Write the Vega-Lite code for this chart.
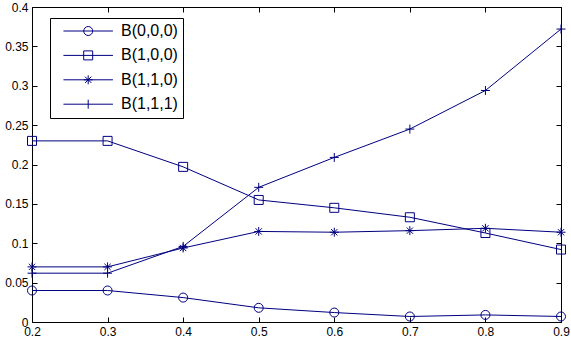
{
  "$schema": "https://vega.github.io/schema/vega-lite/v6.json",
  "width": 529,
  "height": 315,
  "autosize": {"type": "none"},
  "padding": {"left": 32, "top": 7, "right": 10, "bottom": 21},
  "background": "white",
  "config": {
    "view": {"stroke": null},
    "font": "Liberation Sans",
    "axis": {
      "grid": false,
      "domainColor": "black",
      "domainWidth": 1,
      "tickColor": "black",
      "tickWidth": 1,
      "tickSize": -5,
      "labelFontSize": 12,
      "labelColor": "black",
      "labelPadding": 9,
      "labelFlush": false,
      "labelOverlap": false,
      "title": null
    }
  },
  "data": {
    "values": [
      {"x": 0.2, "series": "B(0,0,0)", "value": 0.040},
      {"x": 0.3, "series": "B(0,0,0)", "value": 0.040},
      {"x": 0.4, "series": "B(0,0,0)", "value": 0.031},
      {"x": 0.5, "series": "B(0,0,0)", "value": 0.018},
      {"x": 0.6, "series": "B(0,0,0)", "value": 0.012},
      {"x": 0.7, "series": "B(0,0,0)", "value": 0.007},
      {"x": 0.8, "series": "B(0,0,0)", "value": 0.009},
      {"x": 0.9, "series": "B(0,0,0)", "value": 0.007},
      {"x": 0.2, "series": "B(1,0,0)", "value": 0.230},
      {"x": 0.3, "series": "B(1,0,0)", "value": 0.230},
      {"x": 0.4, "series": "B(1,0,0)", "value": 0.197},
      {"x": 0.5, "series": "B(1,0,0)", "value": 0.155},
      {"x": 0.6, "series": "B(1,0,0)", "value": 0.145},
      {"x": 0.7, "series": "B(1,0,0)", "value": 0.133},
      {"x": 0.8, "series": "B(1,0,0)", "value": 0.113},
      {"x": 0.9, "series": "B(1,0,0)", "value": 0.092},
      {"x": 0.2, "series": "B(1,1,0)", "value": 0.070},
      {"x": 0.3, "series": "B(1,1,0)", "value": 0.070},
      {"x": 0.4, "series": "B(1,1,0)", "value": 0.094},
      {"x": 0.5, "series": "B(1,1,0)", "value": 0.115},
      {"x": 0.6, "series": "B(1,1,0)", "value": 0.114},
      {"x": 0.7, "series": "B(1,1,0)", "value": 0.116},
      {"x": 0.8, "series": "B(1,1,0)", "value": 0.119},
      {"x": 0.9, "series": "B(1,1,0)", "value": 0.114},
      {"x": 0.2, "series": "B(1,1,1)", "value": 0.062},
      {"x": 0.3, "series": "B(1,1,1)", "value": 0.062},
      {"x": 0.4, "series": "B(1,1,1)", "value": 0.096},
      {"x": 0.5, "series": "B(1,1,1)", "value": 0.171},
      {"x": 0.6, "series": "B(1,1,1)", "value": 0.209},
      {"x": 0.7, "series": "B(1,1,1)", "value": 0.245},
      {"x": 0.8, "series": "B(1,1,1)", "value": 0.294},
      {"x": 0.9, "series": "B(1,1,1)", "value": 0.372}
    ]
  },
  "layer": [
    {
      "mark": {"type": "line", "color": "#000080", "strokeWidth": 1},
      "encoding": {
        "x": {"field": "x", "type": "quantitative", "scale": {"domain": [0.2, 0.9], "nice": false},
              "axis": {"orient": "bottom", "values": [0.2, 0.3, 0.4, 0.5, 0.6, 0.7, 0.8, 0.9], "format": ".1f"}},
        "y": {"field": "value", "type": "quantitative", "scale": {"domain": [0, 0.4], "nice": false},
              "axis": {"orient": "left", "values": [0, 0.05, 0.1, 0.15, 0.2, 0.25, 0.3, 0.35, 0.4], "format": ".2~f"}},
        "detail": {"field": "series"}
      }
    },
    {
      "mark": {"type": "point", "filled": false, "color": "#000080", "size": 81, "strokeWidth": 1, "opacity": 1},
      "encoding": {
        "x": {"field": "x", "type": "quantitative",
              "axis": {"orient": "top", "labels": false, "values": [0.2, 0.3, 0.4, 0.5, 0.6, 0.7, 0.8, 0.9]}},
        "y": {"field": "value", "type": "quantitative",
              "axis": {"orient": "right", "labels": false, "values": [0, 0.05, 0.1, 0.15, 0.2, 0.25, 0.3, 0.35, 0.4]}},
        "shape": {"field": "series", "type": "nominal",
                  "scale": {"range": ["circle", "square", "M-1,0L1,0M0,-1L0,1M-0.7,-0.7L0.7,0.7M-0.7,0.7L0.7,-0.7", "M-1,0L1,0M0,-1L0,1"]},
                  "legend": null}
      }
    },
    {
      "mark": {"type": "point", "filled": false, "color": "#000080", "size": 81, "strokeWidth": 1, "opacity": 0},
      "encoding": {
        "x": {"field": "x", "type": "quantitative", "axis": null},
        "y": {"field": "value", "type": "quantitative", "axis": null},
        "shape": {"field": "series", "type": "nominal",
                  "scale": {"range": [
                    "M0.1,0L11.1,0M6.6,0A1,1 0 1,1 4.6,0A1,1 0 1,1 6.6,0",
                    "M0.1,0L11.1,0M4.6,-1L6.6,-1L6.6,1L4.6,1Z",
                    "M0.1,0L11.1,0M4.6,0L6.6,0M5.6,-1L5.6,1M4.9,-0.7L6.3,0.7M4.9,0.7L6.3,-0.7",
                    "M0.1,0L11.1,0M5.6,-1L5.6,1"
                  ]},
                  "legend": {
                    "title": null,
                    "orient": "none",
                    "legendX": 18,
                    "legendY": 11,
                    "padding": 5,
                    "strokeColor": "black",
                    "fillColor": "white",
                    "symbolSize": 81,
                    "symbolOpacity": 1,
                    "symbolStrokeColor": "#000080",
                    "symbolFillColor": "transparent",
                    "symbolStrokeWidth": 1,
                    "labelFontSize": 16,
                    "labelColor": "black",
                    "labelOffset": 50,
                    "rowPadding": 8.4
                  }}
      }
    }
  ],
  "resolve": {"scale": {"shape": "independent"}, "axis": {"x": "independent", "y": "independent"}}
}
